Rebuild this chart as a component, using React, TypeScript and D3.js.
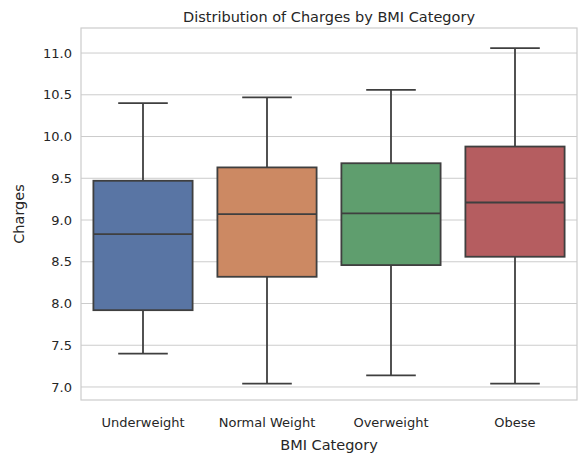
import * as d3 from "d3";

const categories = ["Underweight", "Normal Weight", "Overweight", "Obese"];
const whiskerLow = [7.4, 7.04, 7.14, 7.04];
const q1 = [7.92, 8.32, 8.46, 8.56];
const medians = [8.83, 9.07, 9.08, 9.21];
const q3 = [9.47, 9.63, 9.68, 9.88];
const whiskerHigh = [10.4, 10.47, 10.56, 11.06];
const colors = ["#5975a4", "#cc8963", "#5f9e6e", "#b55d60"];
const yTicks = [7.0, 7.5, 8.0, 8.5, 9.0, 9.5, 10.0, 10.5, 11.0];

export default function App() {
  const width = 586, height = 463;
  const left = 81, right = 577, top = 28, bottom = 400;
  const x = d3.scaleBand().domain(categories).range([left, right]);
  const y = d3.scaleLinear().domain([6.844, 11.3]).range([bottom, top]);
  const bw = x.bandwidth() * 0.8;
  const line = "#3f3f3f";
  const font = "DejaVu Sans, sans-serif";
  return (
    <svg width={width} height={height} style={{ position: "absolute", left: 0, top: 0, background: "#fff" }} fontFamily={font}>
      {yTicks.map((t) => (
        <g key={t}>
          <line x1={left} x2={right} y1={y(t)} y2={y(t)} stroke="#cccccc" strokeWidth={1} />
          <text x={left - 9} y={y(t)} dy="0.35em" textAnchor="end" fontSize={13} fill="#262626">{t.toFixed(1)}</text>
        </g>
      ))}
      {categories.map((c, i) => {
        const cx = x(c)! + x.bandwidth() / 2;
        return (
          <g key={c}>
            <line x1={cx} x2={cx} y1={y(whiskerLow[i])} y2={y(q1[i])} stroke={line} strokeWidth={1.8} />
            <line x1={cx} x2={cx} y1={y(q3[i])} y2={y(whiskerHigh[i])} stroke={line} strokeWidth={1.8} />
            <line x1={cx - bw / 4} x2={cx + bw / 4} y1={y(whiskerLow[i])} y2={y(whiskerLow[i])} stroke={line} strokeWidth={1.8} />
            <line x1={cx - bw / 4} x2={cx + bw / 4} y1={y(whiskerHigh[i])} y2={y(whiskerHigh[i])} stroke={line} strokeWidth={1.8} />
            <rect x={cx - bw / 2} width={bw} y={y(q3[i])} height={y(q1[i]) - y(q3[i])} fill={colors[i]} stroke={line} strokeWidth={1.8} />
            <line x1={cx - bw / 2} x2={cx + bw / 2} y1={y(medians[i])} y2={y(medians[i])} stroke={line} strokeWidth={1.8} />
            <text x={cx} y={bottom + 27} textAnchor="middle" fontSize={13} fill="#262626">{c}</text>
          </g>
        );
      })}
      <rect x={left} y={top} width={right - left} height={bottom - top} fill="none" stroke="#cccccc" strokeWidth={1.2} />
      <text x={(left + right) / 2} y={top - 6} textAnchor="middle" fontSize={14.5} fill="#262626">Distribution of Charges by BMI Category</text>
      <text x={(left + right) / 2} y={bottom + 50} textAnchor="middle" fontSize={14.5} fill="#262626">BMI Category</text>
      <text transform={`translate(24,${(top + bottom) / 2}) rotate(-90)`} textAnchor="middle" fontSize={14.5} fill="#262626">Charges</text>
    </svg>
  );
}
